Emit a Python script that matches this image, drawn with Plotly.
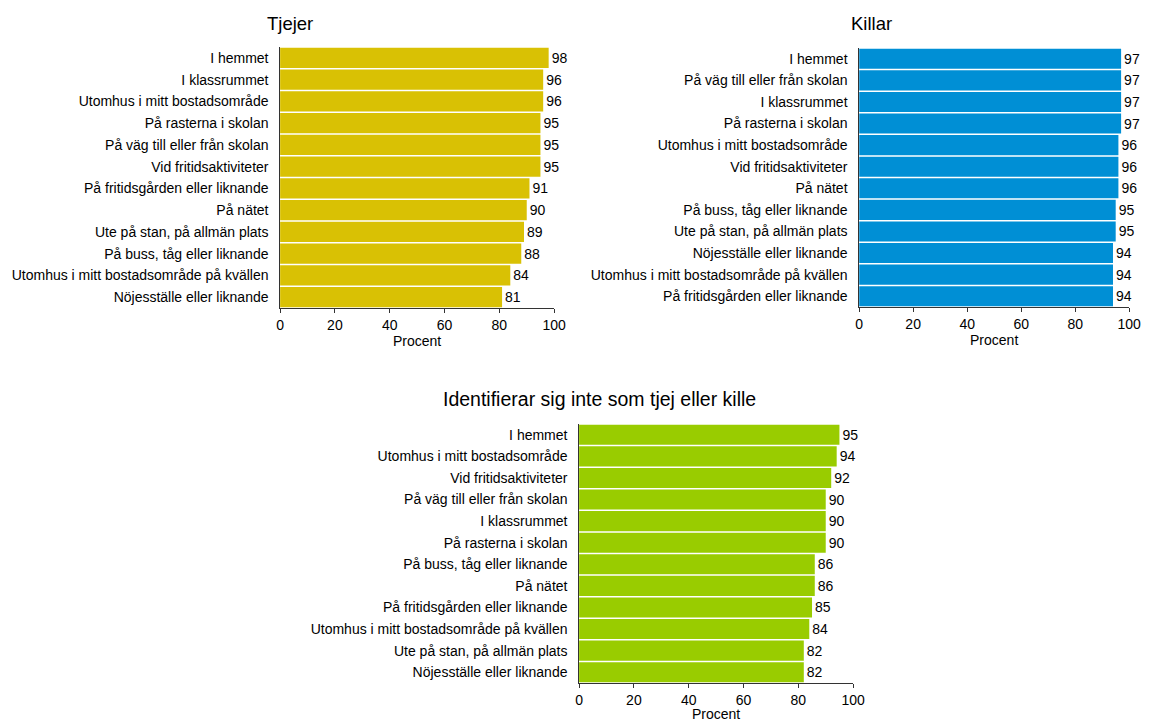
import plotly.graph_objects as go

tjejer_cats = ["I hemmet", "I klassrummet", "Utomhus i mitt bostadsområde", "På rasterna i skolan",
               "På väg till eller från skolan", "Vid fritidsaktiviteter", "På fritidsgården eller liknande",
               "På nätet", "Ute på stan, på allmän plats", "På buss, tåg eller liknande",
               "Utomhus i mitt bostadsområde på kvällen", "Nöjesställe eller liknande"]
tjejer_vals = [98, 96, 96, 95, 95, 95, 91, 90, 89, 88, 84, 81]

killar_cats = ["I hemmet", "På väg till eller från skolan", "I klassrummet", "På rasterna i skolan",
               "Utomhus i mitt bostadsområde", "Vid fritidsaktiviteter", "På nätet",
               "På buss, tåg eller liknande", "Ute på stan, på allmän plats", "Nöjesställe eller liknande",
               "Utomhus i mitt bostadsområde på kvällen", "På fritidsgården eller liknande"]
killar_vals = [97, 97, 97, 97, 96, 96, 96, 95, 95, 94, 94, 94]

ickebin_cats = ["I hemmet", "Utomhus i mitt bostadsområde", "Vid fritidsaktiviteter",
                "På väg till eller från skolan", "I klassrummet", "På rasterna i skolan",
                "På buss, tåg eller liknande", "På nätet", "På fritidsgården eller liknande",
                "Utomhus i mitt bostadsområde på kvällen", "Ute på stan, på allmän plats",
                "Nöjesställe eller liknande"]
ickebin_vals = [95, 94, 92, 90, 90, 90, 86, 86, 85, 84, 82, 82]

titles = ["Tjejer", "Killar", "Identifierar sig inte som tjej eller kille"]
title_sizes = [18.5, 18.5, 19.5]
colors = ["#D9C104", "#008FD5", "#99CC00"]
x_ticks = [0, 20, 40, 60, 80, 100]

W, H = 1149, 722
FONT = "Liberation Sans, Arial, sans-serif"


def cx(p):
    # compensate for slight horizontal scaling seen in the rendered page
    return (p - 3) / 0.9894


panels = [
    (tjejer_cats, tjejer_vals, (280, 555), (47, 308), "x", "y", 290, 23),
    (killar_cats, killar_vals, (861, 1132), (48, 307), "x2", "y2", 873, 23),
    (ickebin_cats, ickebin_vals, (580, 855), (424, 683), "x3", "y3", 601, 399),
]

fig = go.Figure()
layout = dict(width=W, height=H, margin=dict(l=0, r=0, t=0, b=0),
              paper_bgcolor="white", plot_bgcolor="white", showlegend=False,
              font=dict(family=FONT, size=14, color="#000"), bargap=0.07)
annotations = []
for i, (cats, vals, (x0, x1), (y0, y1), xa, ya, tx, ty) in enumerate(panels):
    fig.add_trace(go.Bar(x=vals, y=cats, orientation="h", marker=dict(color=colors[i], line=dict(width=0)),
                         text=[str(v) for v in vals], textposition="outside", cliponaxis=False,
                         textfont=dict(size=14, color="#000"), xaxis=xa, yaxis=ya))
    xk = "xaxis" if i == 0 else f"xaxis{i+1}"
    yk = "yaxis" if i == 0 else f"yaxis{i+1}"
    layout[xk] = dict(domain=[cx(x0) / W, cx(x1) / W], range=[0, 100], tickvals=x_ticks,
                      showline=True, linecolor="#333", linewidth=1, ticks="outside", ticklen=4,
                      tickcolor="#333", showgrid=False, zeroline=False, anchor=ya,
                      title=dict(text="Procent", standoff=0, font=dict(size=14)),
                      tickfont=dict(size=14))
    layout[yk] = dict(domain=[1 - y1 / H, 1 - y0 / H], autorange="reversed", showline=True,
                      linecolor="#333", linewidth=1, ticks="", showgrid=False, zeroline=False,
                      anchor=xa, categoryorder="array", categoryarray=cats,
                      tickfont=dict(size=14), ticksuffix="  ")
    annotations.append(dict(text=titles[i], x=cx(tx) / W, y=1 - ty / H, xref="paper", yref="paper",
                            showarrow=False, xanchor="center", yanchor="middle",
                            font=dict(size=title_sizes[i], color="#000")))
layout["annotations"] = annotations
fig.update_layout(**layout)
fig.write_html("out.html")
